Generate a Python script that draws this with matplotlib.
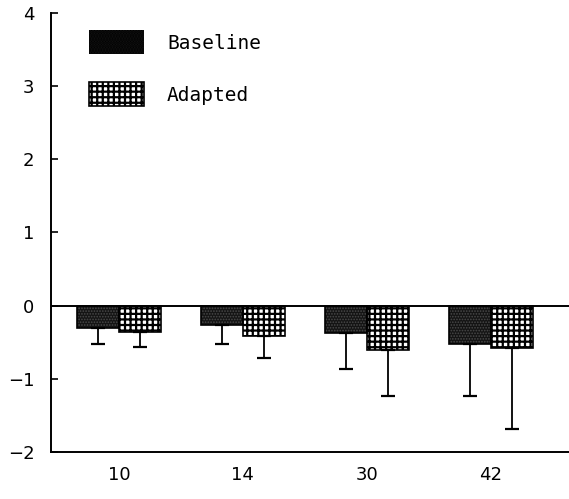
import numpy as np
import matplotlib
matplotlib.use("Agg")
import matplotlib.pyplot as plt

categories = ["10", "14", "30", "42"]
baseline = [-0.31, -0.27, -0.37, -0.52]
baseline_err = [0.22, 0.25, 0.50, 0.72]
adapted = [-0.36, -0.41, -0.60, -0.58]
adapted_err = [0.20, 0.30, 0.64, 1.10]

plt.rcParams.update({"font.family": "DejaVu Sans"})

fig = plt.figure(figsize=(5.69, 4.99), dpi=100)
ax = fig.add_axes([0.0896, 0.0942, 0.9104, 0.8798])

x = np.arange(len(categories))
w = 0.34

# bars: dark stipple / fine grid
plt.rcParams["hatch.linewidth"] = 0.8
b1 = ax.bar(x - w / 2, baseline, w, color="#141414", edgecolor="#4a4a4a",
            hatch="......", linewidth=0, label="Baseline")
plt.rcParams["hatch.linewidth"] = 1.6
b2 = ax.bar(x + w / 2, adapted, w, color="white", edgecolor="black",
            hatch="+++", linewidth=1.2, label="Adapted")
for p in b1:
    ax.add_patch(plt.Rectangle(p.get_xy(), p.get_width(), p.get_height(),
                               fill=False, edgecolor="black", lw=1.2))

# lower error bars only
zeros = np.zeros(len(categories))
ax.errorbar(x - w / 2, baseline, yerr=[baseline_err, zeros], fmt="none",
            ecolor="black", elinewidth=1.3, capsize=5, capthick=1.6)
ax.errorbar(x + w / 2, adapted, yerr=[adapted_err, zeros], fmt="none",
            ecolor="black", elinewidth=1.3, capsize=5, capthick=1.6)

ax.axhline(0, color="black", lw=1.4)

ax.set_xlim(-0.548, 3.63)
ax.set_ylim(-2, 4)
ax.set_xticks(x)
ax.set_xticklabels(categories)
ax.set_yticks(range(-2, 5))
ax.set_yticklabels([str(v).replace("-", "\u2212") for v in range(-2, 5)])
ax.tick_params(axis="x", length=0, labelsize=13, pad=10)
ax.tick_params(axis="y", direction="in", length=5, width=1.2, labelsize=13, pad=12)

for s in ["top", "right"]:
    ax.spines[s].set_visible(False)
ax.spines["left"].set_linewidth(1.4)
ax.spines["bottom"].set_linewidth(1.4)

leg = ax.legend(handles=[b1, b2], loc="upper left", bbox_to_anchor=(0.04, 1.0),
                frameon=False, prop={"family": "DejaVu Sans Mono", "size": 14},
                handlelength=2.8, handleheight=1.5, handletextpad=1.2,
                labelspacing=1.45)
for h in leg.legend_handles:
    h.set_edgecolor("black")

fig.savefig("out.png", dpi=100)
